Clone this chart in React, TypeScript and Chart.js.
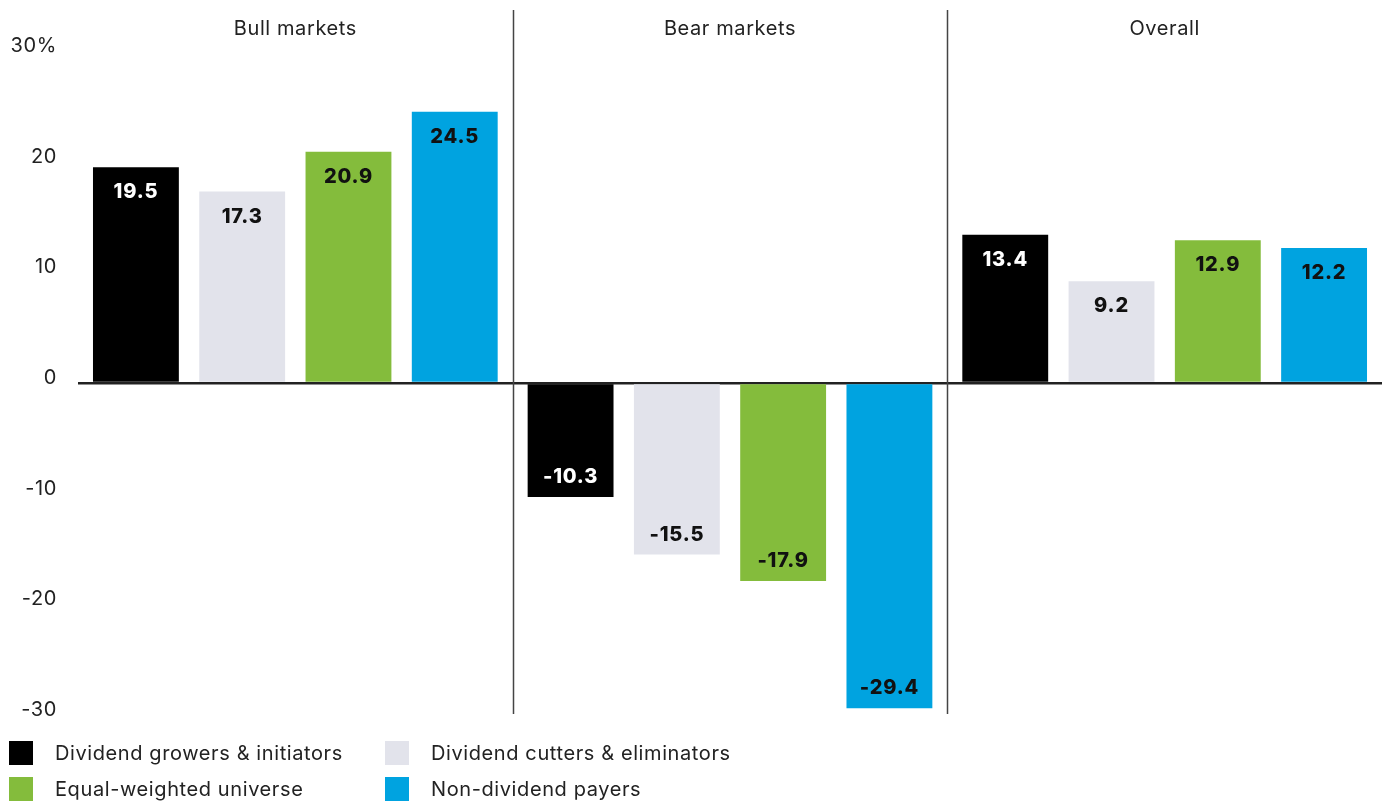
import React, { useEffect, useRef } from "react";
import { Chart, registerables } from "chart.js";

Chart.register(...registerables);

const categories = ["Bull markets", "Bear markets", "Overall"];
const seriesNames = [
  "Dividend growers & initiators",
  "Dividend cutters & eliminators",
  "Equal-weighted universe",
  "Non-dividend payers",
];
const growers = [19.5, -10.3, 13.4];
const cutters = [17.3, -15.5, 9.2];
const equalWeighted = [20.9, -17.9, 12.9];
const nonPayers = [24.5, -29.4, 12.2];
const seriesColors = ["#000000", "#E2E3EB", "#84BC3C", "#00A3E0"];
const labelColors = ["#FFFFFF", "#111111", "#111111", "#111111"];
const yTicks = [30, 20, 10, 0, -10, -20, -30];

const FONT = "Inter, 'Open Sans', sans-serif";

const spacingPlugin = {
  id: "spacing",
  beforeDraw(chart: any) {
    (chart.ctx as any).letterSpacing = "0.6px";
  },
  afterDraw(chart: any) {
    (chart.ctx as any).letterSpacing = "0px";
  },
};

const overlayPlugin = {
  id: "overlay",
  afterDatasetsDraw(chart: any) {
    const ctx = chart.ctx;
    const area = chart.chartArea;
    const xs = chart.scales.x;
    ctx.save();
    ctx.letterSpacing = "0.6px";
    // separators
    ctx.strokeStyle = "#444";
    ctx.lineWidth = 1.5;
    for (let i = 0; i < categories.length - 1; i++) {
      const a = xs.getPixelForValue(i);
      const b = xs.getPixelForValue(i + 1);
      const m = Math.round((a + b) / 2) + 0.5;
      ctx.beginPath();
      ctx.moveTo(m, 10);
      ctx.lineTo(m, area.bottom - 1);
      ctx.stroke();
    }
    // group titles
    ctx.fillStyle = "#222";
    ctx.font = `20px ${FONT}`;
    ctx.textAlign = "center";
    ctx.textBaseline = "middle";
    categories.forEach((c, i) => {
      ctx.fillText(c, xs.getPixelForValue(i), 29);
    });
    // data labels
    ctx.font = `800 20px ${FONT}`;
    ctx.letterSpacing = "0.8px";
    chart.data.datasets.forEach((ds: any, di: number) => {
      const meta = chart.getDatasetMeta(di);
      meta.data.forEach((bar: any, i: number) => {
        const v = ds.data[i];
        ctx.fillStyle = labelColors[di];
        const y = v >= 0 ? bar.y + 25 : bar.y - 20;
        ctx.fillText(v.toFixed(1), bar.x, y);
      });
    });
    // legend
    ctx.letterSpacing = "0.6px";
    ctx.font = `20px ${FONT}`;
    ctx.textAlign = "left";
    const cols = [9, 385];
    const rows = [753, 789];
    chart.data.datasets.forEach((ds: any, di: number) => {
      const cx = cols[di % 2];
      const cy = rows[Math.floor(di / 2)];
      ctx.fillStyle = ds.backgroundColor;
      ctx.fillRect(cx, cy - 12, 24, 24);
      ctx.fillStyle = "#222";
      ctx.fillText(ds.label, cx + 46, cy + 1);
    });
    ctx.restore();
  },
};

export default function App() {
  const ref = useRef<HTMLCanvasElement | null>(null);
  useEffect(() => {
    if (!ref.current) return;
    const seriesData = [growers, cutters, equalWeighted, nonPayers];
    const chart = new Chart(ref.current, {
      type: "bar",
      data: {
        labels: categories,
        datasets: seriesNames.map((n, i) => ({
          label: n,
          data: seriesData[i],
          backgroundColor: seriesColors[i],
          borderWidth: 0,
          categoryPercentage: 0.978,
          barPercentage: 0.808,
        })),
      },
      options: {
        animation: false,
        responsive: false,
        maintainAspectRatio: false,
        layout: { padding: { top: 51, bottom: 89, right: 3, left: 0 } },
        plugins: { legend: { display: false }, tooltip: { enabled: false } },
        scales: {
          x: { display: false },
          y: {
            min: -30,
            max: 30,
            afterFit: (s: any) => {
              s.width = 78;
            },
            afterBuildTicks: (s: any) => {
              s.ticks = yTicks.map((v) => ({ value: v }));
            },
            border: { display: false },
            grid: {
              drawTicks: false,
              color: (c: any) => (c.tick && c.tick.value === 0 ? "#222" : "rgba(0,0,0,0)"),
              lineWidth: (c: any) => (c.tick && c.tick.value === 0 ? 2.5 : 0),
            },
            ticks: {
              padding: 21,
              labelOffset: -5,
              color: "#222",
              font: { family: FONT, size: 20 },
              callback: (v: any) => (v === 30 ? "30%" : String(v)),
            },
          },
        },
      },
      plugins: [spacingPlugin, overlayPlugin],
    });
    return () => chart.destroy();
  }, []);
  return (
    <div style={{ position: "fixed", left: 0, top: 0, width: 1385, height: 804, background: "#fff" }}>
      <canvas ref={ref} width={1385} height={804} style={{ width: 1385, height: 804 }} />
    </div>
  );
}
